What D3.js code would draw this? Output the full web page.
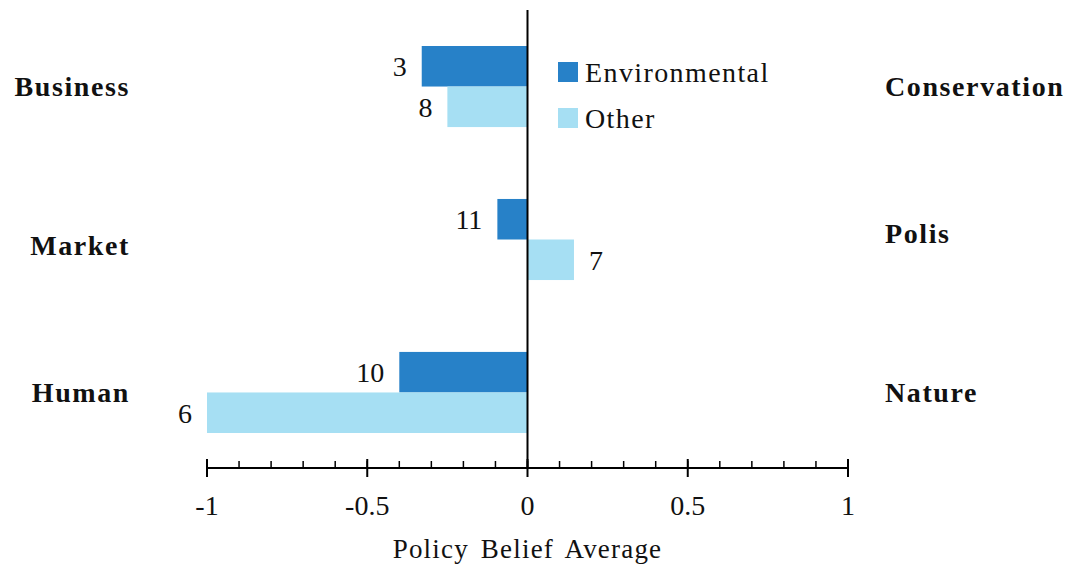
<!DOCTYPE html>
<html>
<head>
<meta charset="utf-8">
<script src="https://cdn.jsdelivr.net/npm/d3@7"></script>
<style>
  body { margin: 0; background: #fff; }
  text { font-family: "Liberation Serif", "Times New Roman", serif; fill: #111; }
</style>
</head>
<body>
<svg width="1071" height="569"></svg>
<script>
// policy belief averages by group
const groups = ['Business', 'Market', 'Human'];
const rightLabels = ['Conservation', 'Polis', 'Nature'];
const series = ['Environmental', 'Other'];
const envValues = [-0.33, -0.094, -0.40];
const otherValues = [-0.25, 0.145, -1.0];
const envCounts = [3, 11, 10];
const otherCounts = [8, 7, 6];
const xTicks = [-1, -0.5, 0, 0.5, 1];

const colors = { Environmental: '#2781c8', Other: '#a6dff3' };

const svg = d3.select('svg');

const x = d3.scaleLinear().domain([-1, 1]).range([207, 848]);
const y = d3.scaleBand().domain(groups).range([46, 433]).paddingInner(0.47).paddingOuter(0);
const sub = d3.scaleBand().domain(series).range([0, y.bandwidth()]);

const rows = groups.map((g, i) => ({
    group: g,
    right: rightLabels[i],
    bars: [
        { key: 'Environmental', value: envValues[i], n: envCounts[i] },
        { key: 'Other', value: otherValues[i], n: otherCounts[i] },
    ]
}));

const row = svg.append('g')
    .selectAll('g')
    .data(rows)
    .join('g')
    .attr('transform', d => `translate(0,${y(d.group)})`);

row.selectAll('rect')
    .data(d => d.bars)
    .join('rect')
    .attr('x', d => x(Math.min(0, d.value)))
    .attr('y', d => sub(d.key))
    .attr('width', d => Math.abs(x(d.value) - x(0)))
    .attr('height', sub.bandwidth())
    .style('fill', d => colors[d.key]);

row.selectAll('text.count')
    .data(d => d.bars)
    .join('text')
    .attr('class', 'count')
    .attr('x', d => d.value < 0 ? x(d.value) - 15 : x(d.value) + 15)
    .attr('y', d => sub(d.key) + sub.bandwidth() / 2)
    .attr('dy', '0.35em')
    .attr('text-anchor', d => d.value < 0 ? 'end' : 'start')
    .style('font-size', '28px')
    .text(d => d.n);

// category labels
row.append('text')
    .attr('x', 130)
    .attr('y', (d, i) => i === 1 ? y.bandwidth() / 2 + 6 : y.bandwidth() / 2)
    .attr('dy', '0.35em')
    .attr('text-anchor', 'end')
    .style('font-size', '28px')
    .style('font-weight', 'bold')
    .style('letter-spacing', '1.6px')
    .text(d => d.group);

row.append('text')
    .attr('x', 885)
    .attr('y', (d, i) => i === 1 ? y.bandwidth() / 2 - 6 : y.bandwidth() / 2)
    .attr('dy', '0.35em')
    .attr('text-anchor', 'start')
    .style('font-size', '28px')
    .style('font-weight', 'bold')
    .style('letter-spacing', '1.6px')
    .text(d => d.right);

// zero line
svg.append('line')
    .attr('x1', x(0)).attr('x2', x(0))
    .attr('y1', 10).attr('y2', 468)
    .style('stroke', '#000')
    .style('stroke-width', 2);

// x axis
const axisY = 468;
const axis = svg.append('g').attr('transform', `translate(0,${axisY})`);
axis.append('line')
    .attr('x1', x(-1)).attr('x2', x(1))
    .style('stroke', '#000').style('stroke-width', 2);

axis.selectAll('line.minor')
    .data(d3.range(-10, 11).map(v => v / 10))
    .join('line')
    .attr('class', 'minor')
    .attr('x1', d => x(d)).attr('x2', d => x(d))
    .attr('y1', -7).attr('y2', 0)
    .style('stroke', '#000').style('stroke-width', 1.5);

axis.selectAll('line.major')
    .data(xTicks)
    .join('line')
    .attr('class', 'major')
    .attr('x1', d => x(d)).attr('x2', d => x(d))
    .attr('y1', -9).attr('y2', 9)
    .style('stroke', '#000').style('stroke-width', 2);

axis.selectAll('text')
    .data(xTicks)
    .join('text')
    .attr('x', d => x(d))
    .attr('y', 37)
    .attr('dy', '0.35em')
    .attr('text-anchor', 'middle')
    .style('font-size', '28px')
    .text(d => String(d));

svg.append('text')
    .attr('x', x(0))
    .attr('y', 549)
    .attr('dy', '0.35em')
    .attr('text-anchor', 'middle')
    .style('font-size', '27px')
    .style('letter-spacing', '1.2px')
    .style('word-spacing', '4px')
    .text('Policy Belief Average');

// legend
const legend = svg.append('g')
    .selectAll('g')
    .data(series)
    .join('g')
    .attr('transform', (d, i) => `translate(558,${62 + i * 46})`);

legend.append('rect')
    .attr('width', 20).attr('height', 20)
    .style('fill', d => colors[d]);

legend.append('text')
    .attr('x', 27).attr('y', 10)
    .attr('dy', '0.35em')
    .style('font-size', '28px')
    .style('letter-spacing', '1.4px')
    .text(d => d);
</script>
</body>
</html>
